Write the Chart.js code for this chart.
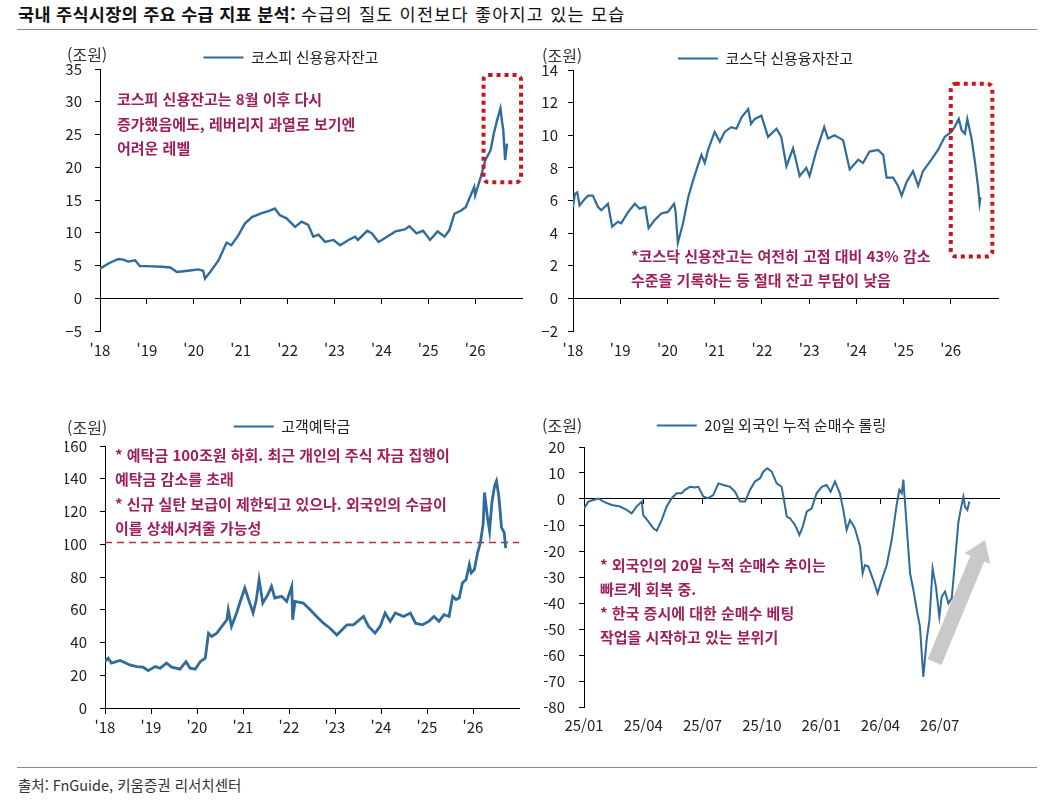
<!DOCTYPE html>
<html lang="ko">
<head>
<meta charset="utf-8">
<title>국내 주식시장의 주요 수급 지표 분석</title>
<script src="https://cdn.jsdelivr.net/npm/chart.js@4.4.1/dist/chart.umd.min.js"></script>
<style>
  html, body { margin: 0; padding: 0; background: #fff; }
  body { position: relative; width: 1049px; height: 806px; overflow: hidden;
         font-family: "Noto Sans CJK KR", "Noto Sans", sans-serif; color: #222; }
  .abs { position: absolute; white-space: nowrap; }
  #title { left: 18px; top: 4px; font-size: 17.5px; line-height: 20px; color: #111; }
  #title b { font-weight: 700; letter-spacing: 0.3px; }
  #title span { letter-spacing: 1.2px; }
  .rule { position: absolute; left: 17px; width: 1020px; height: 1px; background: #8a8a8a; }
  .unit { font-size: 16px; line-height: 20px; color: #333; }
  .note { color: #9e1f5c; font-weight: 700; font-size: 15px; }
  #src { left: 18px; top: 775px; font-size: 14.5px; line-height: 20px; color: #333; }
  canvas { position: absolute; }
</style>
</head>
<body>
<div id="title" class="abs"><b>국내 주식시장의 주요 수급 지표 분석:</b> <span>수급의 질도 이전보다 좋아지고 있는 모습</span></div>
<div class="rule" style="top:29px"></div>

<canvas id="c_kospi" width="535" height="334" style="left:0;top:36px"></canvas>
<canvas id="c_kosdaq" width="524" height="334" style="left:525px;top:37px"></canvas>
<canvas id="c_deposit" width="535" height="334" style="left:0;top:413px"></canvas>
<canvas id="c_foreign" width="524" height="334" style="left:525px;top:414px"></canvas>

<div class="abs unit" style="left:67px;top:44px">(조원)</div>
<div class="abs unit" style="left:542px;top:45px">(조원)</div>
<div class="abs unit" style="left:67px;top:417px">(조원)</div>
<div class="abs unit" style="left:542px;top:415px">(조원)</div>

<div class="abs note" style="left:117px;top:87px;line-height:24.5px">코스피 신용잔고는 8월 이후 다시<br>증가했음에도, 레버리지 과열로 보기엔<br>어려운 레벨</div>
<div class="abs note" style="left:631px;top:244px;line-height:24px">*코스닥 신용잔고는 여전히 고점 대비 43% 감소<br>수준을 기록하는 등 절대 잔고 부담이 낮음</div>
<div class="abs note" style="left:115px;top:443px;line-height:24.3px">* 예탁금 100조원 하회. 최근 개인의 주식 자금 집행이<br>예탁금 감소를 초래<br>* 신규 실탄 보급이 제한되고 있으나. 외국인의 수급이<br>이를 상쇄시켜줄 가능성</div>
<div class="abs note" style="left:600px;top:553px;line-height:24px">* 외국인의 20일 누적 순매수 추이는<br>빠르게 회복 중.<br>* 한국 증시에 대한 순매수 베팅<br>작업을 시작하고 있는 분위기</div>

<div class="rule" style="top:767px"></div>
<div id="src" class="abs">출처: FnGuide, 키움증권 리서치센터</div>

<script>
// x values are fractional years (2018.5 = mid 2018), values in 조원
var kospiX = [2018.0, 2018.18, 2018.39, 2018.5, 2018.6, 2018.75, 2018.85, 2019.0, 2019.32, 2019.5, 2019.64, 2019.88, 2020.1, 2020.2, 2020.24, 2020.35, 2020.53, 2020.7, 2020.8, 2020.95, 2021.09, 2021.24, 2021.45, 2021.59, 2021.73, 2021.83, 2021.98, 2022.16, 2022.3, 2022.44, 2022.55, 2022.66, 2022.8, 2022.98, 2023.12, 2023.3, 2023.44, 2023.5, 2023.7, 2023.8, 2023.94, 2024.08, 2024.3, 2024.5, 2024.6, 2024.75, 2024.89, 2025.04, 2025.2, 2025.35, 2025.45, 2025.56, 2025.7, 2025.8, 2025.98, 2026.0, 2026.12, 2026.22, 2026.33, 2026.4, 2026.47, 2026.54, 2026.57, 2026.6, 2026.64, 2026.68];
var kospiCredit = [4.5, 5.3, 6.0, 5.9, 5.6, 5.8, 4.9, 4.9, 4.8, 4.7, 4.0, 4.2, 4.4, 4.2, 3.0, 4.0, 5.8, 8.5, 8.1, 9.6, 11.4, 12.4, 13.0, 13.3, 13.7, 12.7, 12.2, 10.9, 11.7, 11.2, 9.4, 9.7, 8.6, 8.9, 8.1, 8.9, 9.4, 8.9, 10.3, 9.9, 8.6, 9.2, 10.2, 10.5, 11.0, 9.9, 10.3, 8.9, 10.2, 9.4, 10.4, 12.9, 13.4, 13.9, 17.0, 15.7, 18.5, 21.1, 22.6, 25.2, 27.2, 29.0, 27.2, 25.7, 21.1, 23.6];

var kosdaqX = [2018.0, 2018.04, 2018.09, 2018.14, 2018.25, 2018.32, 2018.42, 2018.53, 2018.6, 2018.74, 2018.83, 2018.95, 2019.02, 2019.17, 2019.31, 2019.41, 2019.53, 2019.6, 2019.73, 2019.87, 2020.01, 2020.14, 2020.17, 2020.22, 2020.33, 2020.44, 2020.54, 2020.65, 2020.72, 2020.79, 2020.86, 2021.0, 2021.11, 2021.21, 2021.35, 2021.46, 2021.57, 2021.71, 2021.77, 2021.85, 2021.99, 2022.13, 2022.31, 2022.41, 2022.52, 2022.66, 2022.8, 2022.94, 2023.01, 2023.15, 2023.32, 2023.4, 2023.54, 2023.72, 2023.86, 2024.04, 2024.14, 2024.28, 2024.46, 2024.57, 2024.64, 2024.78, 2024.88, 2024.96, 2025.06, 2025.2, 2025.31, 2025.41, 2025.59, 2025.73, 2025.87, 2026.01, 2026.08, 2026.17, 2026.23, 2026.3, 2026.35, 2026.44, 2026.51, 2026.58, 2026.61, 2026.63];
var kosdaqCredit = [5.6, 6.4, 6.5, 5.7, 6.1, 6.3, 6.3, 5.6, 5.4, 5.8, 4.4, 4.7, 4.6, 5.3, 5.8, 5.5, 5.6, 4.3, 4.8, 5.2, 5.3, 5.8, 5.4, 3.4, 4.6, 6.2, 7.2, 8.2, 8.8, 8.3, 9.1, 10.2, 9.6, 10.2, 10.5, 10.4, 11.1, 11.6, 10.7, 11.0, 11.2, 9.9, 10.4, 9.9, 8.1, 9.2, 7.5, 8.0, 7.5, 9.0, 10.5, 9.8, 10.0, 9.7, 7.9, 8.5, 8.3, 9.0, 9.1, 8.8, 7.4, 7.4, 6.9, 6.3, 7.1, 7.8, 6.9, 7.8, 8.5, 9.1, 9.9, 10.2, 10.5, 11.0, 10.3, 10.1, 11.0, 9.8, 8.4, 6.8, 5.8, 6.2];

var depositX = [2018.0, 2018.07, 2018.14, 2018.33, 2018.54, 2018.69, 2018.83, 2018.94, 2019.09, 2019.2, 2019.34, 2019.45, 2019.63, 2019.76, 2019.85, 2019.96, 2020.07, 2020.18, 2020.25, 2020.32, 2020.43, 2020.54, 2020.65, 2020.68, 2020.75, 2020.86, 2020.93, 2021.04, 2021.11, 2021.22, 2021.29, 2021.35, 2021.43, 2021.54, 2021.62, 2021.69, 2021.84, 2021.95, 2022.06, 2022.08, 2022.13, 2022.31, 2022.46, 2022.6, 2022.75, 2022.89, 2023.04, 2023.15, 2023.26, 2023.4, 2023.62, 2023.73, 2023.87, 2023.98, 2024.09, 2024.2, 2024.31, 2024.49, 2024.64, 2024.75, 2024.9, 2025.04, 2025.15, 2025.26, 2025.37, 2025.48, 2025.56, 2025.63, 2025.7, 2025.77, 2025.85, 2025.92, 2025.96, 2026.03, 2026.1, 2026.16, 2026.22, 2026.25, 2026.31, 2026.36, 2026.41, 2026.47, 2026.51, 2026.56, 2026.59, 2026.62, 2026.68, 2026.71];
var customerDeposit = [28.3, 30.4, 27.4, 29, 26.3, 25.3, 24.9, 22.8, 25.3, 24.3, 27.4, 24.9, 23.7, 28.3, 24.3, 23.7, 28.3, 30.4, 45.7, 43.7, 45.7, 49.8, 53.9, 60, 49.8, 58, 64.1, 73.3, 67.2, 58, 66.2, 78.4, 64.1, 69.2, 74.3, 67.2, 68.2, 65.1, 74.3, 53.9, 65.1, 64.1, 60, 55.9, 51.8, 48.7, 44.6, 47.7, 50.8, 50.8, 55.9, 49.8, 45.7, 49.8, 58, 52.9, 58, 55.9, 58, 51.8, 50.8, 52.9, 55.9, 52.9, 57, 55.9, 68.2, 66.2, 67.2, 76.4, 78.4, 87.6, 82.5, 84.6, 94.8, 100.9, 112.1, 131.6, 117.3, 108.1, 125.4, 135.6, 138.6, 129.5, 120.3, 110.1, 107, 97.7];
var depositLine = 101;

// x values are months since 2025/01
var foreignX = [0.0, 0.22, 0.47, 0.73, 0.98, 1.4, 1.82, 2.16, 2.41, 2.66, 2.92, 3.0, 3.26, 3.51, 3.68, 3.93, 4.18, 4.44, 4.69, 4.94, 5.11, 5.36, 5.62, 5.79, 6.04, 6.29, 6.54, 6.8, 7.05, 7.39, 7.64, 7.9, 8.15, 8.4, 8.65, 8.91, 9.07, 9.28, 9.5, 9.75, 10.0, 10.12, 10.26, 10.42, 10.68, 10.9, 11.07, 11.27, 11.52, 11.77, 12.03, 12.28, 12.48, 12.7, 12.95, 13.12, 13.29, 13.46, 13.71, 13.97, 14.1, 14.22, 14.39, 14.64, 14.86, 15.06, 15.32, 15.57, 15.82, 15.96, 16.08, 16.16, 16.33, 16.5, 16.67, 16.84, 17.0, 17.09, 17.17, 17.34, 17.48, 17.64, 17.81, 17.98, 18.1, 18.27, 18.44, 18.61, 18.78, 18.94, 19.06, 19.2, 19.28, 19.4, 19.5];
var foreignNetBuy = [-3.6, -1.0, -0.4, 0.2, -1.0, -2.3, -2.9, -4.2, -5.5, -2.9, -1.0, -6.2, -8.7, -11.3, -12.2, -8.1, -2.9, 0.3, 2.2, 2.2, 3.5, 4.7, 4.4, 4.7, 0.9, 0.3, 1.5, 6.0, 5.4, 4.7, 2.8, -1.0, -1.0, 3.5, 6.7, 8.0, 10.5, 11.8, 10.5, 6.0, 4.7, -0.4, -6.8, -7.4, -10.0, -13.8, -10.6, -4.9, -3.6, 2.2, 4.7, 5.4, 2.8, 6.7, 2.2, -4.2, -11.9, -8.1, -11.3, -18.3, -28.6, -25.4, -26.0, -31.2, -36.3, -31.2, -25.4, -15.8, -2.3, 3.5, 2.2, 7.5, -10.6, -28.6, -35.0, -42.7, -49.1, -59.4, -68.4, -54.2, -46.5, -26.7, -33.8, -45.3, -37.6, -35.6, -40.1, -38.1, -23.4, -9.2, -4.2, 0.9, -2.9, -4.2, -1.0];

var yearTicks = ["'18", "'19", "'20", "'21", "'22", "'23", "'24", "'25", "'26"];
var quarterTicks = ['25/01', '25/04', '25/07', '25/10', '26/01', '26/04', '26/07'];

Chart.defaults.font.family = "'Noto Sans CJK KR', 'Noto Sans', sans-serif";
Chart.defaults.font.size = 15;
Chart.defaults.color = '#222';

var LINE_COLOR = '#2f6b9b';

function pts(xs, ys) {
    return xs.map(function (x, i) { return { x: x, y: ys[i] }; });
}

function minus(v) {
    return String(v).replace('-', '\u2212');
}

// legend sits a little closer to the plot than chart.js puts it
function nudgeLegend(dy) {
    return {
        id: 'nudgeLegend',
        afterLayout: function (chart) {
            if (chart.legend) {
                chart.legend.top += dy;
                chart.legend.bottom += dy;
            }
        }
    };
}

// legend swatch: thin line whatever the series width is
function legendLabels(chart) {
    var items = Chart.defaults.plugins.legend.labels.generateLabels(chart);
    items.forEach(function (it) { it.lineWidth = 2; });
    return items.filter(function (it) { return it.text !== ''; });
}

function dottedBox(b) {
    return {
        id: 'dottedBox',
        afterDatasetsDraw: function (chart) {
            var xs = chart.scales.x, ys = chart.scales.y, ctx = chart.ctx;
            var l = xs.getPixelForValue(b.x[0]), r = xs.getPixelForValue(b.x[1]);
            var t = ys.getPixelForValue(b.y[1]), bt = ys.getPixelForValue(b.y[0]);
            ctx.save();
            ctx.strokeStyle = '#c8161d';
            ctx.lineWidth = 4;
            ctx.setLineDash([4, 4]);
            ctx.beginPath();
            ctx.roundRect(l, t, r - l, bt - t, 5);
            ctx.stroke();
            ctx.restore();
        }
    };
}

function trendArrow(a) {
    return {
        id: 'trendArrow',
        beforeDatasetsDraw: function (chart) {
            var xs = chart.scales.x, ys = chart.scales.y, ctx = chart.ctx;
            var x0 = xs.getPixelForValue(a.from[0]), y0 = ys.getPixelForValue(a.from[1]);
            var x1 = xs.getPixelForValue(a.to[0]), y1 = ys.getPixelForValue(a.to[1]);
            var ang = Math.atan2(y1 - y0, x1 - x0), len = Math.hypot(x1 - x0, y1 - y0);
            var sw = 7.5, hw = 14, hl = 20;
            ctx.save();
            ctx.translate(x0, y0);
            ctx.rotate(ang);
            ctx.fillStyle = '#c9c9c9';
            ctx.beginPath();
            ctx.moveTo(0, -sw);
            ctx.lineTo(len - hl, -sw);
            ctx.lineTo(len - hl, -hw);
            ctx.lineTo(len, 0);
            ctx.lineTo(len - hl, hw);
            ctx.lineTo(len - hl, sw);
            ctx.lineTo(0, sw);
            ctx.closePath();
            ctx.fill();
            ctx.restore();
        }
    };
}

function buildChart(id, o) {
    return new Chart(document.getElementById(id), {
        type: 'line',
        data: { datasets: o.datasets },
        plugins: [nudgeLegend(o.legendDy)].concat(o.plugins || []),
        options: {
            responsive: false,
            animation: false,
            layout: { padding: o.padding },
            elements: { point: { radius: 0 }, line: { tension: 0 } },
            plugins: {
                legend: {
                    labels: {
                        usePointStyle: true,
                        pointStyle: 'line',
                        pointStyleWidth: 40,
                        padding: 6,
                        color: '#222',
                        font: { size: 15 },
                        generateLabels: legendLabels
                    }
                },
                tooltip: { enabled: false }
            },
            scales: {
                x: {
                    type: 'linear',
                    min: o.xMin,
                    max: o.xMax,
                    ticks: {
                        stepSize: o.xStep,
                        padding: o.xPad,
                        maxRotation: 0,
                        autoSkip: false,
                        color: '#222',
                        callback: o.xLabel
                    },
                    grid: { display: false, drawTicks: false },
                    border: { display: false },
                    afterFit: function (s) { s.height = 30; }
                },
                xz: {
                    axis: 'x',
                    type: 'linear',
                    position: { y: 0 },
                    min: o.xMin,
                    max: o.xMax,
                    ticks: { display: false, stepSize: o.xStep },
                    grid: {
                        drawOnChartArea: false,
                        tickLength: 5,
                        tickColor: function (c) {
                            return c.tick && c.tick.value >= o.xMax ? 'rgba(0,0,0,0)' : '#000';
                        }
                    },
                    border: { color: '#000', width: 1 }
                },
                y: {
                    min: o.yMin,
                    max: o.yMax,
                    ticks: { stepSize: o.yStep, padding: o.yPad, color: '#222', callback: minus },
                    grid: { drawOnChartArea: false, tickLength: 5, color: '#000' },
                    border: { color: '#000', width: 1 },
                    afterFit: function (s) { s.width = 40; }
                }
            }
        }
    });
}

function yearLabel(v) {
    return yearTicks[v - 2018] || '';
}

buildChart('c_kospi', {
    datasets: [{
        label: '코스피 신용융자잔고',
        data: pts(kospiX, kospiCredit),
        borderColor: LINE_COLOR,
        backgroundColor: LINE_COLOR,
        borderWidth: 2.4
    }],
    padding: { left: 60, right: 13, top: 2, bottom: 9 },
    legendDy: 6,
    xMin: 2018, xMax: 2027, xStep: 1, xPad: 10, xLabel: yearLabel,
    yMin: -5, yMax: 35, yStep: 5, yPad: 13,
    plugins: [dottedBox({ x: [2026.18, 2026.98], y: [17.7, 34.1] })]
});

buildChart('c_kosdaq', {
    datasets: [{
        label: '코스닥 신용융자잔고',
        data: pts(kosdaqX, kosdaqCredit),
        borderColor: LINE_COLOR,
        backgroundColor: LINE_COLOR,
        borderWidth: 2.2
    }],
    padding: { left: 8, right: 51, top: 2, bottom: 10 },
    legendDy: 6,
    xMin: 2018, xMax: 2027, xStep: 1, xPad: 10, xLabel: yearLabel,
    yMin: -2, yMax: 14, yStep: 2, yPad: 10,
    plugins: [dottedBox({ x: [2026.0, 2026.88], y: [2.57, 13.15] })]
});

buildChart('c_deposit', {
    datasets: [{
        label: '고객예탁금',
        data: pts(depositX, customerDeposit),
        borderColor: LINE_COLOR,
        backgroundColor: LINE_COLOR,
        borderWidth: 2.8,
        order: 1
    }, {
        label: '',
        data: pts([2018, 2027], [depositLine, depositLine]),
        borderColor: '#b8302f',
        borderWidth: 1.5,
        borderDash: [7, 5],
        order: 2
    }],
    padding: { left: 65, right: 16, top: 2, bottom: 9 },
    legendDy: -2,
    xMin: 2018, xMax: 2027, xStep: 1, xPad: 10, xLabel: yearLabel,
    yMin: 0, yMax: 160, yStep: 20, yPad: 13
});

buildChart('c_foreign', {
    datasets: [{
        label: '20일 외국인 누적 순매수 롤링',
        data: pts(foreignX, foreignNetBuy),
        borderColor: LINE_COLOR,
        backgroundColor: LINE_COLOR,
        borderWidth: 2
    }],
    padding: { left: 19, right: 50, top: 2, bottom: 11 },
    legendDy: -4,
    xMin: 0, xMax: 21, xStep: 3, xPad: 9,
    xLabel: function (v) { return quarterTicks[v / 3] || ''; },
    yMin: -80, yMax: 20, yStep: 10, yPad: 14,
    plugins: [trendArrow({ from: [17.74, -62.7], to: [20.29, -15.8] })]
});
</script>
</body>
</html>
